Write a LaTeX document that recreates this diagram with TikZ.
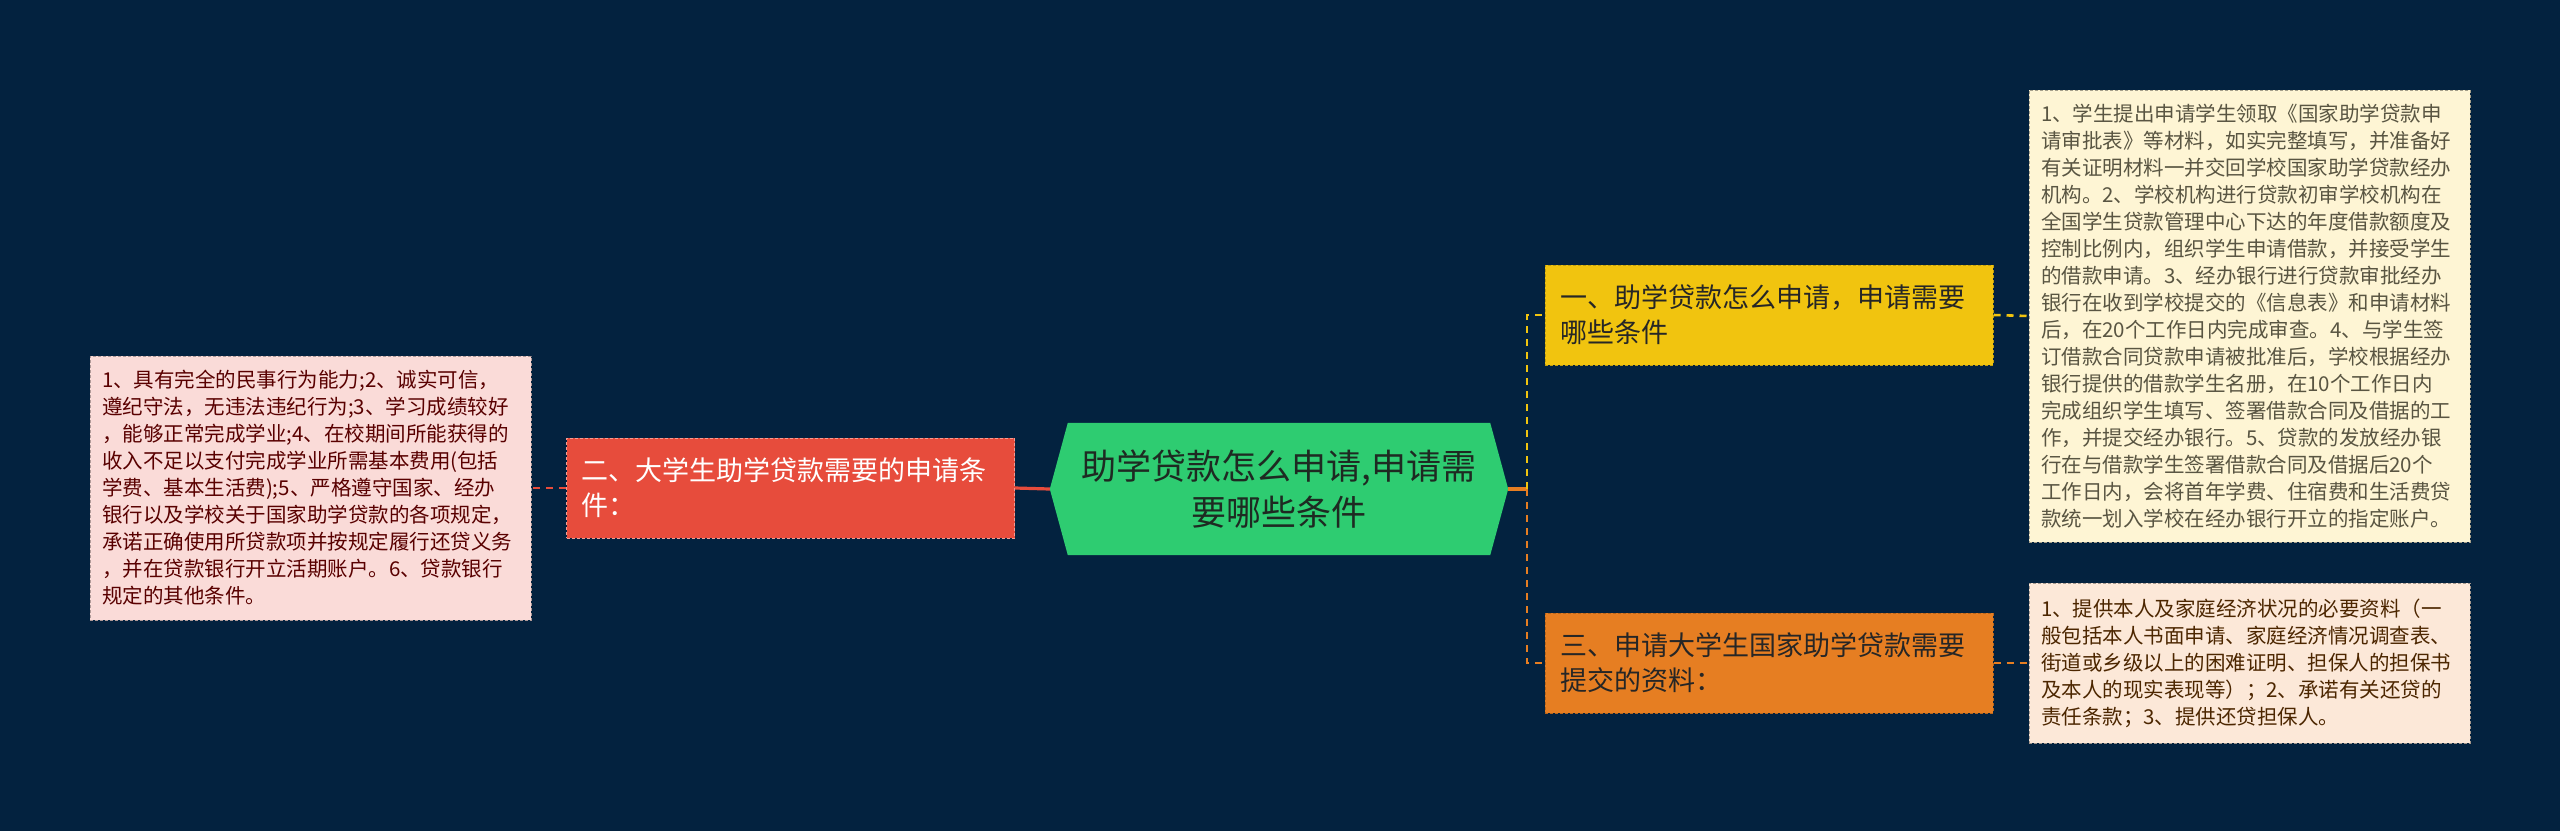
\documentclass[tikz,border=0pt]{standalone}
\usepackage{fontspec}
\setmainfont{Noto Sans CJK SC}
\usetikzlibrary{calc}
\pgfdeclarelayer{background}
\pgfsetlayers{background,main}

\definecolor{bgnavy}{HTML}{03223F}
\definecolor{maingreen}{HTML}{2ECC71}
\definecolor{maintext}{HTML}{1E2A22}
\definecolor{redfill}{HTML}{E74C3C}
\definecolor{yellowfill}{HTML}{F1C40F}
\definecolor{orangefill}{HTML}{E67E22}
\definecolor{pinkfill}{HTML}{FADBD8}
\definecolor{creamfill}{HTML}{FEF5D4}
\definecolor{peachfill}{HTML}{FCE8D8}

\tikzset{
  detailbox/.style={rectangle, dash pattern=on 3pt off 2pt, line width=1pt,
    text width=417pt, inner xsep=12pt, inner ysep=10pt, align=left,
    font=\fontsize{20.5}{27}\selectfont},
  branchbox/.style={rectangle, dash pattern=on 3pt off 2pt, line width=1pt,
    text width=418pt, inner xsep=15pt, minimum height=100pt, align=left,
    font=\fontsize{27}{35}\selectfont},
  linkdash/.style={line width=2.6pt, dash pattern=on 7pt off 6pt}
}

\begin{document}
\begin{tikzpicture}[x=1pt,y=-1pt]
\begin{pgfonlayer}{background}
\fill[bgnavy] (0,0) rectangle (2560,831);
\end{pgfonlayer}
\useasboundingbox (0,0) rectangle (2560,831);

\node[minimum width=458pt, minimum height=132pt, align=center, text=maintext,
  font=\fontsize{35}{46}\selectfont] (main) at (1279,489)
  {助学贷款怎么申请,申请需\\要哪些条件};
\begin{pgfonlayer}{background}
\fill[maingreen] ([xshift=18pt]main.north west) -- ([xshift=-18pt]main.north east)
  -- (main.east) -- ([xshift=-18pt]main.south east)
  -- ([xshift=18pt]main.south west) -- (main.west) -- cycle;
\end{pgfonlayer}

\node[branchbox, fill=redfill, draw=redfill!55!white, text=white] (n2) at (790.5,488)
  {二、大学生助学贷款需要的申请条\\件：};
\node[branchbox, fill=yellowfill, draw=yellowfill!80!black, text=black!85] (n1) at (1769,315)
  {一、助学贷款怎么申请，申请需要\\哪些条件};
\node[branchbox, fill=orangefill, draw=orangefill!80!black, text=black!85] (n3) at (1769,663)
  {三、申请大学生国家助学贷款需要\\提交的资料：};

\node[detailbox, fill=pinkfill, draw=pinkfill!70!black, text=red!35!black,
  minimum height=264pt] (d2) at (310.5,488)
  {1、具有完全的民事行为能力;2、诚实可信，\\
   遵纪守法，无违法违纪行为;3、学习成绩较好\\
   ，能够正常完成学业;4、在校期间所能获得的\\
   收入不足以支付完成学业所需基本费用(包括\\
   学费、基本生活费);5、严格遵守国家、经办\\
   银行以及学校关于国家助学贷款的各项规定，\\
   承诺正确使用所贷款项并按规定履行还贷义务\\
   ，并在贷款银行开立活期账户。6、贷款银行\\
   规定的其他条件。};
\node[detailbox, fill=creamfill, draw=creamfill!65!black, text=yellow!25!black,
  minimum height=452pt] (d1) at (2249.5,316)
  {1、学生提出申请学生领取《国家助学贷款申\\
   请审批表》等材料，如实完整填写，并准备好\\
   有关证明材料一并交回学校国家助学贷款经办\\
   机构。2、学校机构进行贷款初审学校机构在\\
   全国学生贷款管理中心下达的年度借款额度及\\
   控制比例内，组织学生申请借款，并接受学生\\
   的借款申请。3、经办银行进行贷款审批经办\\
   银行在收到学校提交的《信息表》和申请材料\\
   后，在20个工作日内完成审查。4、与学生签\\
   订借款合同贷款申请被批准后，学校根据经办\\
   银行提供的借款学生名册，在10个工作日内\\
   完成组织学生填写、签署借款合同及借据的工\\
   作，并提交经办银行。5、贷款的发放经办银\\
   行在与借款学生签署借款合同及借据后20个\\
   工作日内，会将首年学费、住宿费和生活费贷\\
   款统一划入学校在经办银行开立的指定账户。};
\node[detailbox, fill=peachfill, draw=peachfill!65!black, text=orange!30!black,
  minimum height=160pt] (d3) at (2249.5,663)
  {1、提供本人及家庭经济状况的必要资料（一\\
   般包括本人书面申请、家庭经济情况调查表、\\
   街道或乡级以上的困难证明、担保人的担保书\\
   及本人的现实表现等）；2、承诺有关还贷的\\
   责任条款；3、提供还贷担保人。};

\coordinate (fork) at (1527,489);
\draw[redfill, line width=3.2pt] (main.west) -- (n2.east);
\draw[redfill, linkdash] (n2.west) -- (d2.east);
\draw[orangefill, line width=3.2pt] (main.east) -- (fork);
\draw[yellowfill, linkdash] (fork) |- (n1.west);
\draw[orangefill, linkdash] (fork) |- (n3.west);
\draw[yellowfill, linkdash] (n1.east) -- (d1.west);
\draw[orangefill, linkdash] (n3.east) -- (d3.west);

\end{tikzpicture}
\end{document}
